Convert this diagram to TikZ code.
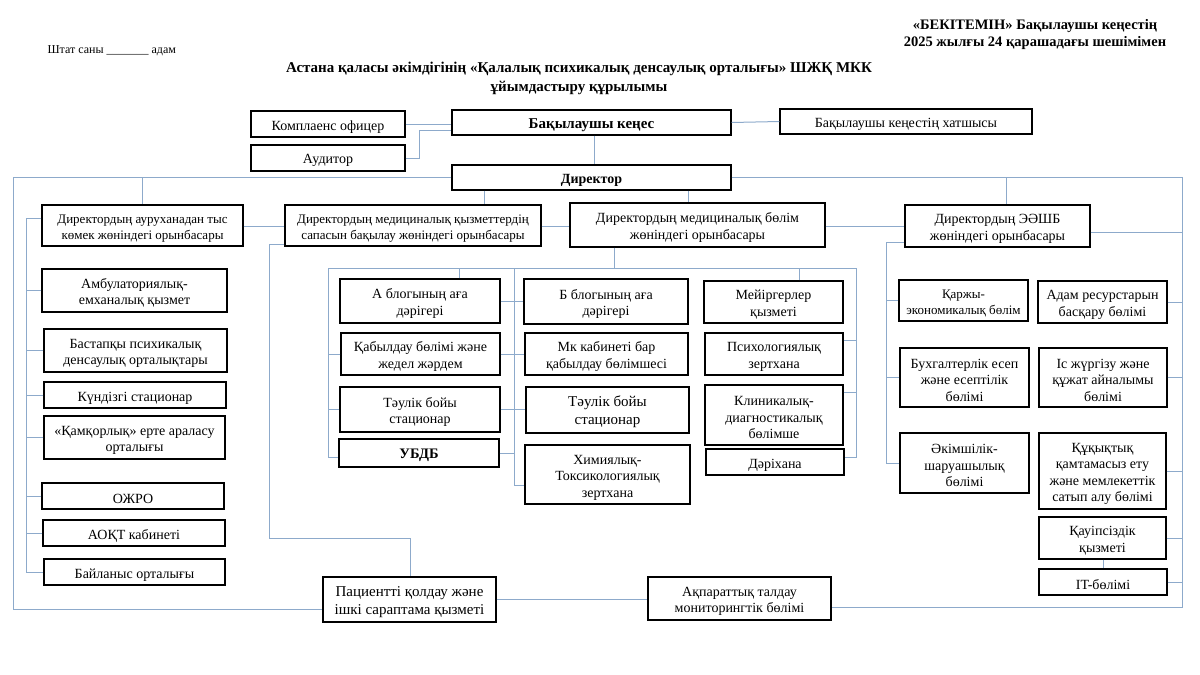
\documentclass[tikz,border=0pt]{standalone}
\usepackage{fontspec}
\setmainfont{Liberation Serif}
\definecolor{linkblue}{RGB}{141,170,203}

\begin{document}
\begin{tikzpicture}[x=1pt, y=-1pt,
    every node/.style={font=\fontsize{14}{16.5}\selectfont},
    box/.style={draw, line width=1.1pt, align=flush center, inner sep=0pt,
      execute at begin node={\rule{0pt}{15pt}}},
    wh/.style 2 args={minimum width=#1, text width=#1, minimum height=#2},
    small/.style={font=\fontsize{13}{16}\selectfont},
    link/.style={draw=linkblue, line width=1pt}]
  \useasboundingbox (0,0) rectangle (1200,675);

  \node[anchor=west, font=\fontsize{12}{14}\selectfont] (staff) at (44,51) {Штат саны \_\_\_\_\_\_\_ адам};
  \node[align=center, font=\fontsize{14.5}{17}\selectfont\bfseries] (approve) at (1035,35)
    {«БЕКІТЕМІН» Бақылаушы кеңестің\\2025 жылғы 24 қарашадағы шешімімен};
  \node[align=center, font=\fontsize{15}{19}\selectfont\bfseries] (title) at (579,78)
    {Астана қаласы әкімдігінің «Қалалық психикалық денсаулық орталығы» ШЖҚ МКК\\ұйымдастыру құрылымы};

  \node[box, wh={154}{26}] (kompl) at (328,124) {Комплаенс офицер};
  \node[box, wh={154}{26}] (audit) at (328,158) {Аудитор};
  \node[box, wh={279}{25}, font=\fontsize{15}{17}\selectfont\bfseries] (board) at (591.5,122.5) {Бақылаушы кеңес};
  \node[box, wh={252}{25}] (secr) at (906,121.5) {Бақылаушы кеңестің хатшысы};
  \node[box, wh={279}{25}, font=\fontsize{14}{17}\selectfont\bfseries] (dir) at (591.5,177.5) {Директор};

  \node[box, small, wh={201}{41}] (dep1) at (142.5,225.5) {Директордың ауруханадан тыс\\көмек жөніндегі орынбасары};
  \node[box, small, wh={256}{41}] (dep2) at (413,225.5) {Директордың медициналық қызметтердің\\сапасын бақылау жөніндегі орынбасары};
  \node[box, wh={255}{44}] (dep3) at (697.5,225) {Директордың медициналық бөлім\\жөніндегі орынбасары};
  \node[box, wh={185}{42}] (dep4) at (997.5,226) {Директордың ЭӘШБ\\жөніндегі орынбасары};

  \node[box, wh={185}{43}] (amb) at (134.5,290.5) {Амбулаториялық-\\емханалық қызмет};
  \node[box, wh={183}{43}] (bast) at (135.5,350.5) {Бастапқы психикалық\\денсаулық орталықтары};
  \node[box, wh={182}{26}] (kund) at (135,395) {Күндізгі стационар};
  \node[box, wh={181}{43}] (kamk) at (134.5,437.5) {«Қамқорлық» ерте араласу\\орталығы};
  \node[box, wh={182}{26}] (ozhro) at (133,496) {ОЖРО};
  \node[box, wh={182}{26}] (aokt) at (134,533) {АОҚТ кабинеті};
  \node[box, wh={181}{26}] (bail) at (134.5,572) {Байланыс орталығы};

  \node[box, wh={160}{44}] (ablog) at (420,301) {А блогының аға\\дәрігері};
  \node[box, wh={159}{42}] (kabyl) at (420.5,354) {Қабылдау бөлімі және\\жедел жәрдем};
  \node[box, wh={160}{45}] (taulA) at (420,409.5) {Тәулік бойы\\стационар};
  \node[box, wh={160}{28}, font=\fontsize{14.5}{17}\selectfont\bfseries] (ubdb) at (419,453) {УБДБ};
  \node[box, wh={164}{45}] (bblog) at (606,301.5) {Б блогының аға\\дәрігері};
  \node[box, wh={163}{42}] (mk) at (606.5,354) {Мк кабинеті бар\\қабылдау бөлімшесі};
  \node[box, wh={163}{46}, font=\fontsize{15}{18}\selectfont] (taulB) at (607.5,410) {Тәулік бойы\\стационар};
  \node[box, wh={165}{59}] (khim) at (607.5,474.5) {Химиялық-\\Токсикологиялық\\зертхана};
  \node[box, wh={139}{42}] (meir) at (773.5,302) {Мейіргерлер\\қызметі};
  \node[box, wh={138}{42}] (psikh) at (774,354) {Психологиялық\\зертхана};
  \node[box, wh={138}{60}] (klin) at (774,415) {Клиникалық-\\диагностикалық\\бөлімше};
  \node[box, wh={138}{26}] (dari) at (775,462) {Дәріхана};

  \node[box, small, wh={129}{41}] (karzh) at (963.5,300.5) {Қаржы-\\экономикалық бөлім};
  \node[box, wh={129}{42}] (adam) at (1102.5,302) {Адам ресурстарын\\басқару бөлімі};
  \node[box, wh={129}{59}] (bukh) at (964.5,377.5) {Бухгалтерлік есеп\\және есептілік\\бөлімі};
  \node[box, wh={128}{59}] (isj) at (1103,377.5) {Іс жүргізу және\\құжат айналымы\\бөлімі};
  \node[box, wh={129}{60}] (akim) at (964.5,463) {Әкімшілік-\\шаруашылық\\бөлімі};
  \node[box, wh={127}{76}] (kukyk) at (1102.5,471) {Құқықтық\\қамтамасыз ету\\және мемлекеттік\\сатып алу бөлімі};
  \node[box, wh={127}{42}] (kauip) at (1102.5,538) {Қауіпсіздік\\қызметі};
  \node[box, wh={128}{26}] (it) at (1103,582) {IT-бөлімі};

  \node[box, wh={173}{45}, font=\fontsize{15}{18}\selectfont] (pat) at (409.5,599.5) {Пациентті қолдау және\\ішкі сараптама қызметі};
  \node[box, wh={183}{43}] (akp) at (739.5,598.5) {Ақпараттық талдау\\мониторингтік бөлімі};

  \coordinate (busL) at (328,268);
  \coordinate (busM) at (514,268);
  \coordinate (busR) at (856,268);

  \draw[link] (kompl.east) -- (board.west |- kompl.east);
  \draw[link] (audit.east) -| (419,130) -- (board.west |- 419,130);
  \draw[link] (board.east) -- (secr.west);
  \draw[link] (board.south -| 594,0) -- (dir.north -| 594,0);

  \draw[link] (dir.west) -| (13,609) -- (pat.west |- 13,609);
  \draw[link] (dep1.north |- dir.west) -- (dep1.north);
  \draw[link] (dir.south -| 484,0) -- (dep2.north -| 484,0);
  \draw[link] (dir.south -| 688,0) -- (dep3.north -| 688,0);
  \draw[link] (dir.east) -| (1182,607) -- (akp.east |- 1182,607);
  \draw[link] (dir.east -| 1006,0) -- (dep4.north -| 1006,0);
  \draw[link] (dep1.east |- 0,226) -- (dep2.west |- 0,226);
  \draw[link] (dep2.east |- 0,226) -- (dep3.west |- 0,226);
  \draw[link] (dep3.east |- 0,226) -- (dep4.west |- 0,226);
  \draw[link] ([yshift=-19pt]dep2.west) -| (269,538) -| (pat.north -| 410,0);
  \draw[link] (pat.east) -- (akp.west |- pat.east);

  \draw[link] ([yshift=7.5pt]dep1.west) -| (26,572) -- (bail.west);
  \foreach \n in {amb,bast,kund,kamk,ozhro,aokt}
    \draw[link] (\n.west) -- (\n.west -| 26,0);

  \draw[link] (dep3.south -| 614,0) -- (614,268);
  \draw[link] (busL) -- (busR);
  \draw[link] (ablog.north -| 459,0) -- (459,268);
  \draw[link] (meir.north -| 799,0) -- (799,268);
  \draw[link] (busL) |- ([yshift=-4pt]ubdb.west);
  \foreach \n in {kabyl,taulA}
    \draw[link] (\n.west) -- (\n.west -| busL);
  \draw[link] (busM) |- ([yshift=-11pt]khim.west);
  \draw[link] (ablog.east) -- (bblog.west |- ablog.east);
  \draw[link] (kabyl.east) -- (mk.west |- kabyl.east);
  \draw[link] (taulA.east) -- (taulB.west |- taulA.east);
  \draw[link] (ubdb.east) -- (ubdb.east -| busM);
  \draw[link] (busR) |- ([yshift=5pt]dari.east);
  \draw[link] ([yshift=14pt]psikh.east) -- ([yshift=14pt]psikh.east -| busR);
  \draw[link] ([yshift=23pt]klin.east) -- ([yshift=23pt]klin.east -| busR);

  \draw[link] ([yshift=-16pt]dep4.west) -| (akim.west -| 886,0) -- (akim.west);
  \foreach \n in {karzh,bukh}
    \draw[link] (\n.west) -- (\n.west -| 886,0);
  \draw[link] ([yshift=-6pt]dep4.east) -- ([yshift=-6pt]dep4.east -| 1182,0);
  \foreach \n in {adam,isj,kukyk,kauip,it}
    \draw[link] (\n.east) -- (\n.east -| 1182,0);
  \draw[link] (kauip.south -| 1103,0) -- (it.north -| 1103,0);
\end{tikzpicture}
\end{document}
